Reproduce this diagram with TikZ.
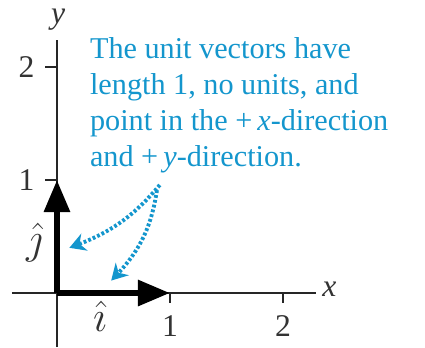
\documentclass[tikz,border=0pt]{standalone}
\usepackage{fontspec}
\setmainfont{Liberation Serif}
\usetikzlibrary{arrows.meta,bending}
\definecolor{noteblue}{RGB}{20,150,205}

\begin{document}
\begin{tikzpicture}[
  x=2.26cm, y=2.26cm,
  axis/.style={line width=1.1pt, black!85},
  tick/.style={line width=1.1pt, black!85},
  unitvec/.style={line width=3.4pt, -{Triangle[length=0.64cm, width=0.5cm]}},
  pointer/.style={noteblue, line width=2.2pt, dash pattern=on 1.6pt off 1.2pt,
                  -{Stealth[length=0.32cm, width=0.36cm, flex]}},
  lbl/.style={font=\fontsize{18}{20}\selectfont, text=black!80, inner sep=0pt},
  hatlbl/.style={font=\fontsize{24}{26}\selectfont, text=black!80, inner sep=0pt},
  note/.style={font=\fontsize{17.2}{20.4}\selectfont, text=noteblue, align=left,
               inner sep=0pt}
]
\useasboundingbox (-0.504,-0.478) rectangle (3.257,2.593);
\coordinate (origin) at (0,0);
\coordinate (xend) at (2.292,0);
\coordinate (yend) at (0,2.239);
\draw[axis] (-0.398,0) -- (xend);
\draw[axis] (0,-0.478) -- (yend);
\foreach \k in {1,2} {
  \draw[tick] (\k,0) -- (\k,-0.09);
  \draw[tick] (0,\k) -- (-0.106,\k);
  \node[lbl] (xnum\k) at (\k,-0.29) {\k};
  \node[lbl] (ynum\k) at (-0.27,\k) {\k};
}
\node[lbl] (xlabel) at (2.41,0.03) {\textit{x}};
\node[lbl] (ylabel) at (0.01,2.42) {\textit{y}};
\draw[unitvec] (origin) -- (1,0);
\draw[unitvec] (origin) -- (0,1);
\node[hatlbl] (ihat) at (0.38,-0.21) {$\hat{\imath}$};
\node[hatlbl] (jhat) at (-0.2,0.45) {$\hat{\jmath}$};
\node[note, anchor=north west] (text) at (0.29,2.262)
  {The unit vectors have\\length 1, no units, and\\point in the +\,\textit{x}-direction\\and +\,\textit{y}-direction.};
\coordinate (tail) at (0.91,0.956);
\coordinate (tailb) at (0.885,0.91);
\coordinate (jtip) at (0.11,0.4);
\coordinate (itip) at (0.48,0.11);
\draw[pointer] (tail) to[bend left=15] (jtip);
\draw[pointer] (tailb) to[bend left=18] (itip);
\end{tikzpicture}
\end{document}
